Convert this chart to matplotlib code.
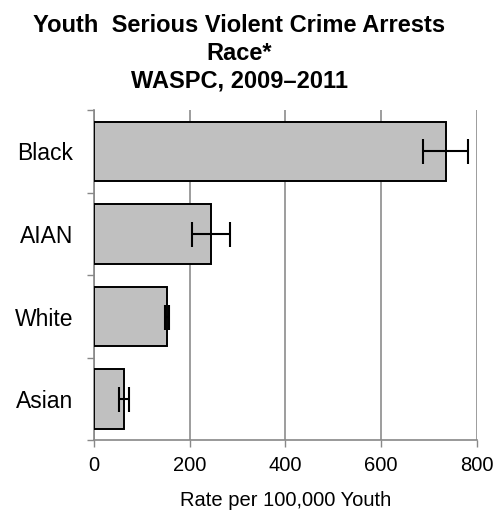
import matplotlib
matplotlib.use("Agg")
import matplotlib.pyplot as plt
import numpy as np

# rates per 100,000 youth, with confidence half-widths
races = ["Black", "AIAN", "White", "Asian"]
rates = [735, 244, 152, 63]
errors = [48, 40, 4, 11]
x_ticks = [0, 200, 400, 600, 800]

plt.rcParams["font.family"] = ["Liberation Sans", "DejaVu Sans"]

fig = plt.figure(figsize=(4.98, 5.15), dpi=100)
ax = fig.add_axes([0.1888, 0.1447, 0.7682, 0.6417])

pos = np.arange(len(races))[::-1]
ax.barh(pos, rates, height=0.72, color="#c0c0c0", edgecolor="black", linewidth=1.4, zorder=3)
ax.errorbar(rates, pos, xerr=errors, fmt="none", ecolor="black", elinewidth=1.5,
            capsize=9, capthick=1.5, zorder=4)

ax.set_xlim(0, 800)
ax.set_ylim(-0.5, len(races) - 0.5)
ax.set_xticks(x_ticks)
ax.set_xticklabels([str(t) for t in x_ticks], fontsize=14.5)
ax.set_yticks(pos)
ax.set_yticklabels(races, fontsize=16.5)
ax.set_yticks(np.arange(-0.5, len(races)), minor=True)
ax.tick_params(axis="y", which="major", length=0, pad=15)
ax.tick_params(axis="y", which="minor", length=5, color="#888888", width=1)
ax.tick_params(axis="x", length=5, color="#888888", width=1, pad=6)

ax.grid(axis="x", color="#8c8c8c", linewidth=1.2, zorder=0)
for side in ["top", "right"]:
    ax.spines[side].set_visible(False)
for side in ["left", "bottom"]:
    ax.spines[side].set_color("#888888")
    ax.spines[side].set_linewidth(1.2)

ax.set_xlabel("Rate per 100,000 Youth", fontsize=14.5, labelpad=12)

fig.text(0.481, 0.972, "Youth  Serious Violent Crime Arrests\nRace*\nWASPC, 2009\u20132011",
         ha="center", va="top", fontsize=17, fontweight="bold", linespacing=1.25)

fig.savefig("out.png", dpi=100)
